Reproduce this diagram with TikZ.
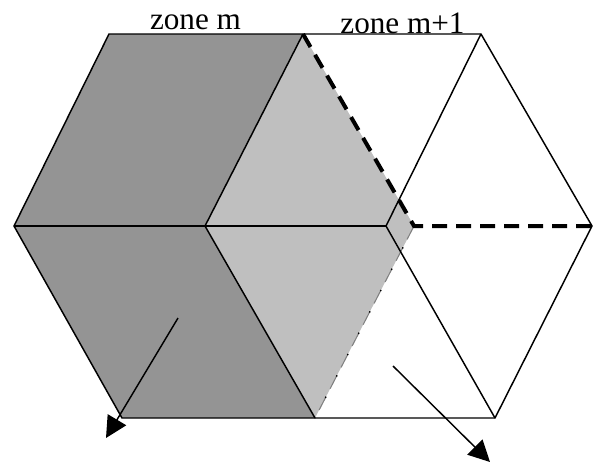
\documentclass[tikz,border=0pt]{standalone}
\usepackage{xcolor}
\usepackage{fontspec}
\setmainfont{Liberation Serif}
\usetikzlibrary{arrows.meta,positioning}
\definecolor{zonedark}{gray}{0.58}
\definecolor{zonelight}{gray}{0.75}

\begin{document}
\begin{tikzpicture}[
    x=0.75pt, y=-0.75pt,
    edge/.style={line width=1.1pt, black},
    front/.style={line width=3pt, black, dash pattern=on 11.25pt off 6.75pt},
    rim/.style={line width=0.8pt, gray, dash pattern=on 11.25pt off 6.75pt},
    rimdots/.style={line width=1pt, black, dash pattern=on 1pt off 17pt},
    arrow/.style={-{Triangle[length=16pt, width=16pt]}, line width=1.1pt},
    zonelabel/.style={inner sep=0pt, anchor=base, font=\fontsize{23.4}{28}\selectfont}
  ]
    \useasboundingbox (0,0) rectangle (593,462);
    \coordinate (west) at (14,226);
    \coordinate (nw) at (109,34);
    \coordinate (nmid) at (303,34);
    \coordinate (ne) at (481,34);
    \coordinate (centre) at (205,226);
    \coordinate (inner) at (386,226);
    \coordinate (front) at (414,226);
    \coordinate (east) at (592,226);
    \coordinate (sw) at (122,418);
    \coordinate (smid) at (315,418);
    \coordinate (se) at (495,418);
    \coordinate (inA) at (178,318);
    \coordinate (outA) at (106,438);
    \coordinate (inB) at (393,366);
    \coordinate (outB) at (490,462);
    % zones
    \fill[zonedark] (nw) -- (nmid) -- (centre) -- (smid) -- (sw) -- (west) -- cycle;
    \fill[zonelight] (nmid) -- (front) -- (smid) -- (centre) -- cycle;
    \draw[rim] (front) -- (smid);
    \draw[rimdots] (front) -- (smid);
    % cell edges
    \draw[edge] (nw) -- (nmid) -- (ne) -- (east) -- (se) -- (smid) -- (sw) -- (west) -- cycle;
    \draw[edge] (west) -- (inner);
    \draw[edge] (nmid) -- (centre) -- (smid);
    \draw[edge] (ne) -- (inner) -- (se);
    \draw[front] (nmid) -- (front) -- (east);
    \draw[arrow] (inA) -- (outA);
    \draw[arrow] (inB) -- (outB);
    \node[zonelabel] (zonem) at (195.5,29) {zone m};
    \node[zonelabel] (zonenext) at (402.5,33) {zone m+1};
\end{tikzpicture}
\end{document}
